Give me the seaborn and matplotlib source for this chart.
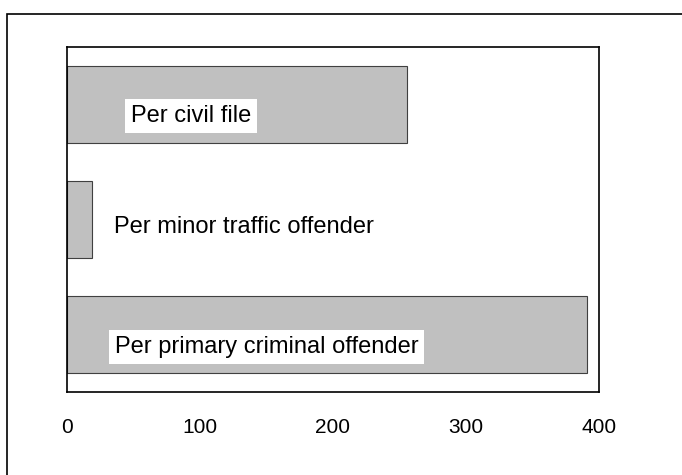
import matplotlib
matplotlib.use('Agg')
import matplotlib.pyplot as plt
import seaborn as sns
import pandas as pd
from matplotlib.patches import Rectangle

# values (cost per unit)
categories = ['Per civil file', 'Per minor traffic offender', 'Per primary criminal offender']
values = [256, 18.5, 391]
x_ticks = [0, 100, 200, 300, 400]

df = pd.DataFrame({'category': categories, 'value': values})

sns.set_style('white')
plt.rcParams['font.family'] = ['Liberation Sans', 'DejaVu Sans']
plt.rcParams['text.color'] = 'black'
plt.rcParams['xtick.color'] = 'black'

fig = plt.figure(figsize=(6.82, 4.75), dpi=100)
ax = fig.add_axes([0.0982, 0.1754, 0.78, 0.7263])

sns.barplot(data=df, x='value', y='category', orient='h', ax=ax,
            color='#c0c0c0', saturation=1, width=0.67,
            edgecolor='#404040', linewidth=0.8)

# labels inside / next to the bars (offsets are layout only)
label_x = [48, 35, 36]
label_dy = [0.155, 0.12, 0.165]
label_box = [True, False, True]
for i, name in enumerate(categories):
    kw = {}
    if label_box[i]:
        kw['bbox'] = dict(boxstyle='square,pad=0.25', fc='white', ec='none')
    ax.text(label_x[i], i + label_dy[i], name, fontsize=17, va='baseline',
            ha='left', color='black', **kw)

ax.set_xlim(0, 400)
ax.set_ylim(2.5, -0.5)
ax.set_xticks(x_ticks)
ax.set_xticklabels([str(t) for t in x_ticks], fontsize=15, color='black')
ax.set_yticks([])
ax.set_xlabel('')
ax.set_ylabel('')
ax.tick_params(axis='x', length=0, pad=19)
for s in ax.spines.values():
    s.set_visible(True)
    s.set_color('black')
    s.set_linewidth(1.2)

# outer frame, running off the right and bottom edge
fig.patches.append(Rectangle((7.3 / 682, -0.1), 1.2, 1 - 14 / 475 + 0.1,
                             transform=fig.transFigure, fill=False,
                             edgecolor='black', linewidth=1.2))

fig.savefig('out.png', dpi=100)
